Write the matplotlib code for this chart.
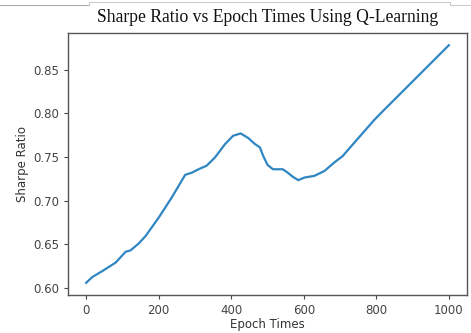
import matplotlib.pyplot as plt
from matplotlib.lines import Line2D

# values
epochs = [0, 17, 45, 81, 109, 122, 145, 164, 200, 236, 273, 291, 310, 332, 355,
          383, 405, 426, 447, 465, 479, 488, 500, 515, 542, 556, 570, 585, 602,
          629, 657, 684, 707, 748, 794, 812, 1000]
sharpe = [0.606, 0.6126, 0.6195, 0.629, 0.6416, 0.643, 0.651, 0.6596, 0.6806,
          0.7036, 0.7296, 0.732, 0.736, 0.740, 0.7494, 0.7648, 0.7743, 0.777,
          0.7717, 0.765, 0.761, 0.7514, 0.741, 0.736, 0.736, 0.732, 0.7273,
          0.7235, 0.7265, 0.7284, 0.734, 0.7437, 0.751, 0.7705, 0.7923, 0.800,
          0.878]
x_ticks = [0, 200, 400, 600, 800, 1000]
y_ticks = [0.60, 0.65, 0.70, 0.75, 0.80, 0.85]

fig = plt.figure(figsize=(4.71, 3.33), dpi=100)
ax = fig.add_axes([0.1444, 0.1141, 0.8471, 0.7868])

ax.plot(epochs, sharpe, color="#2f86c2", linewidth=1.6)
ax.set_xlim(-50, 1050)
ax.set_ylim(0.592, 0.892)
ax.set_xticks(x_ticks)
ax.set_yticks(y_ticks)
ax.set_yticklabels([f"{v:.2f}" for v in y_ticks])
ax.tick_params(labelsize=8.5, colors="#444444", length=3, width=0.8)
for s in ax.spines.values():
    s.set_color("#555555")
    s.set_linewidth(1.0)

ax.set_xlabel("Epoch Times", fontsize=8.5, color="#333333", labelpad=1)
ax.set_ylabel("Sharpe Ratio", fontsize=8.5, color="#333333", labelpad=3)

# title in serif, as in the screenshot
fig.text(0.568, 0.946, "Sharpe Ratio vs Epoch Times Using Q-Learning",
         family="Liberation Serif", fontsize=12.7, ha="center", va="center",
         color="#111111")

# thin box edge left over at the top of the screenshot
fig.add_artist(Line2D([0, 0.187], [0.985, 0.985], transform=fig.transFigure,
                      color="#aaaaaa", linewidth=0.8))
fig.add_artist(Line2D([0.189, 0.189, 0.955, 0.955, 1.0],
                      [0.985, 0.995, 0.995, 0.985, 0.985],
                      transform=fig.transFigure, color="#cccccc", linewidth=0.8))

fig.savefig("out.png", dpi=100)
